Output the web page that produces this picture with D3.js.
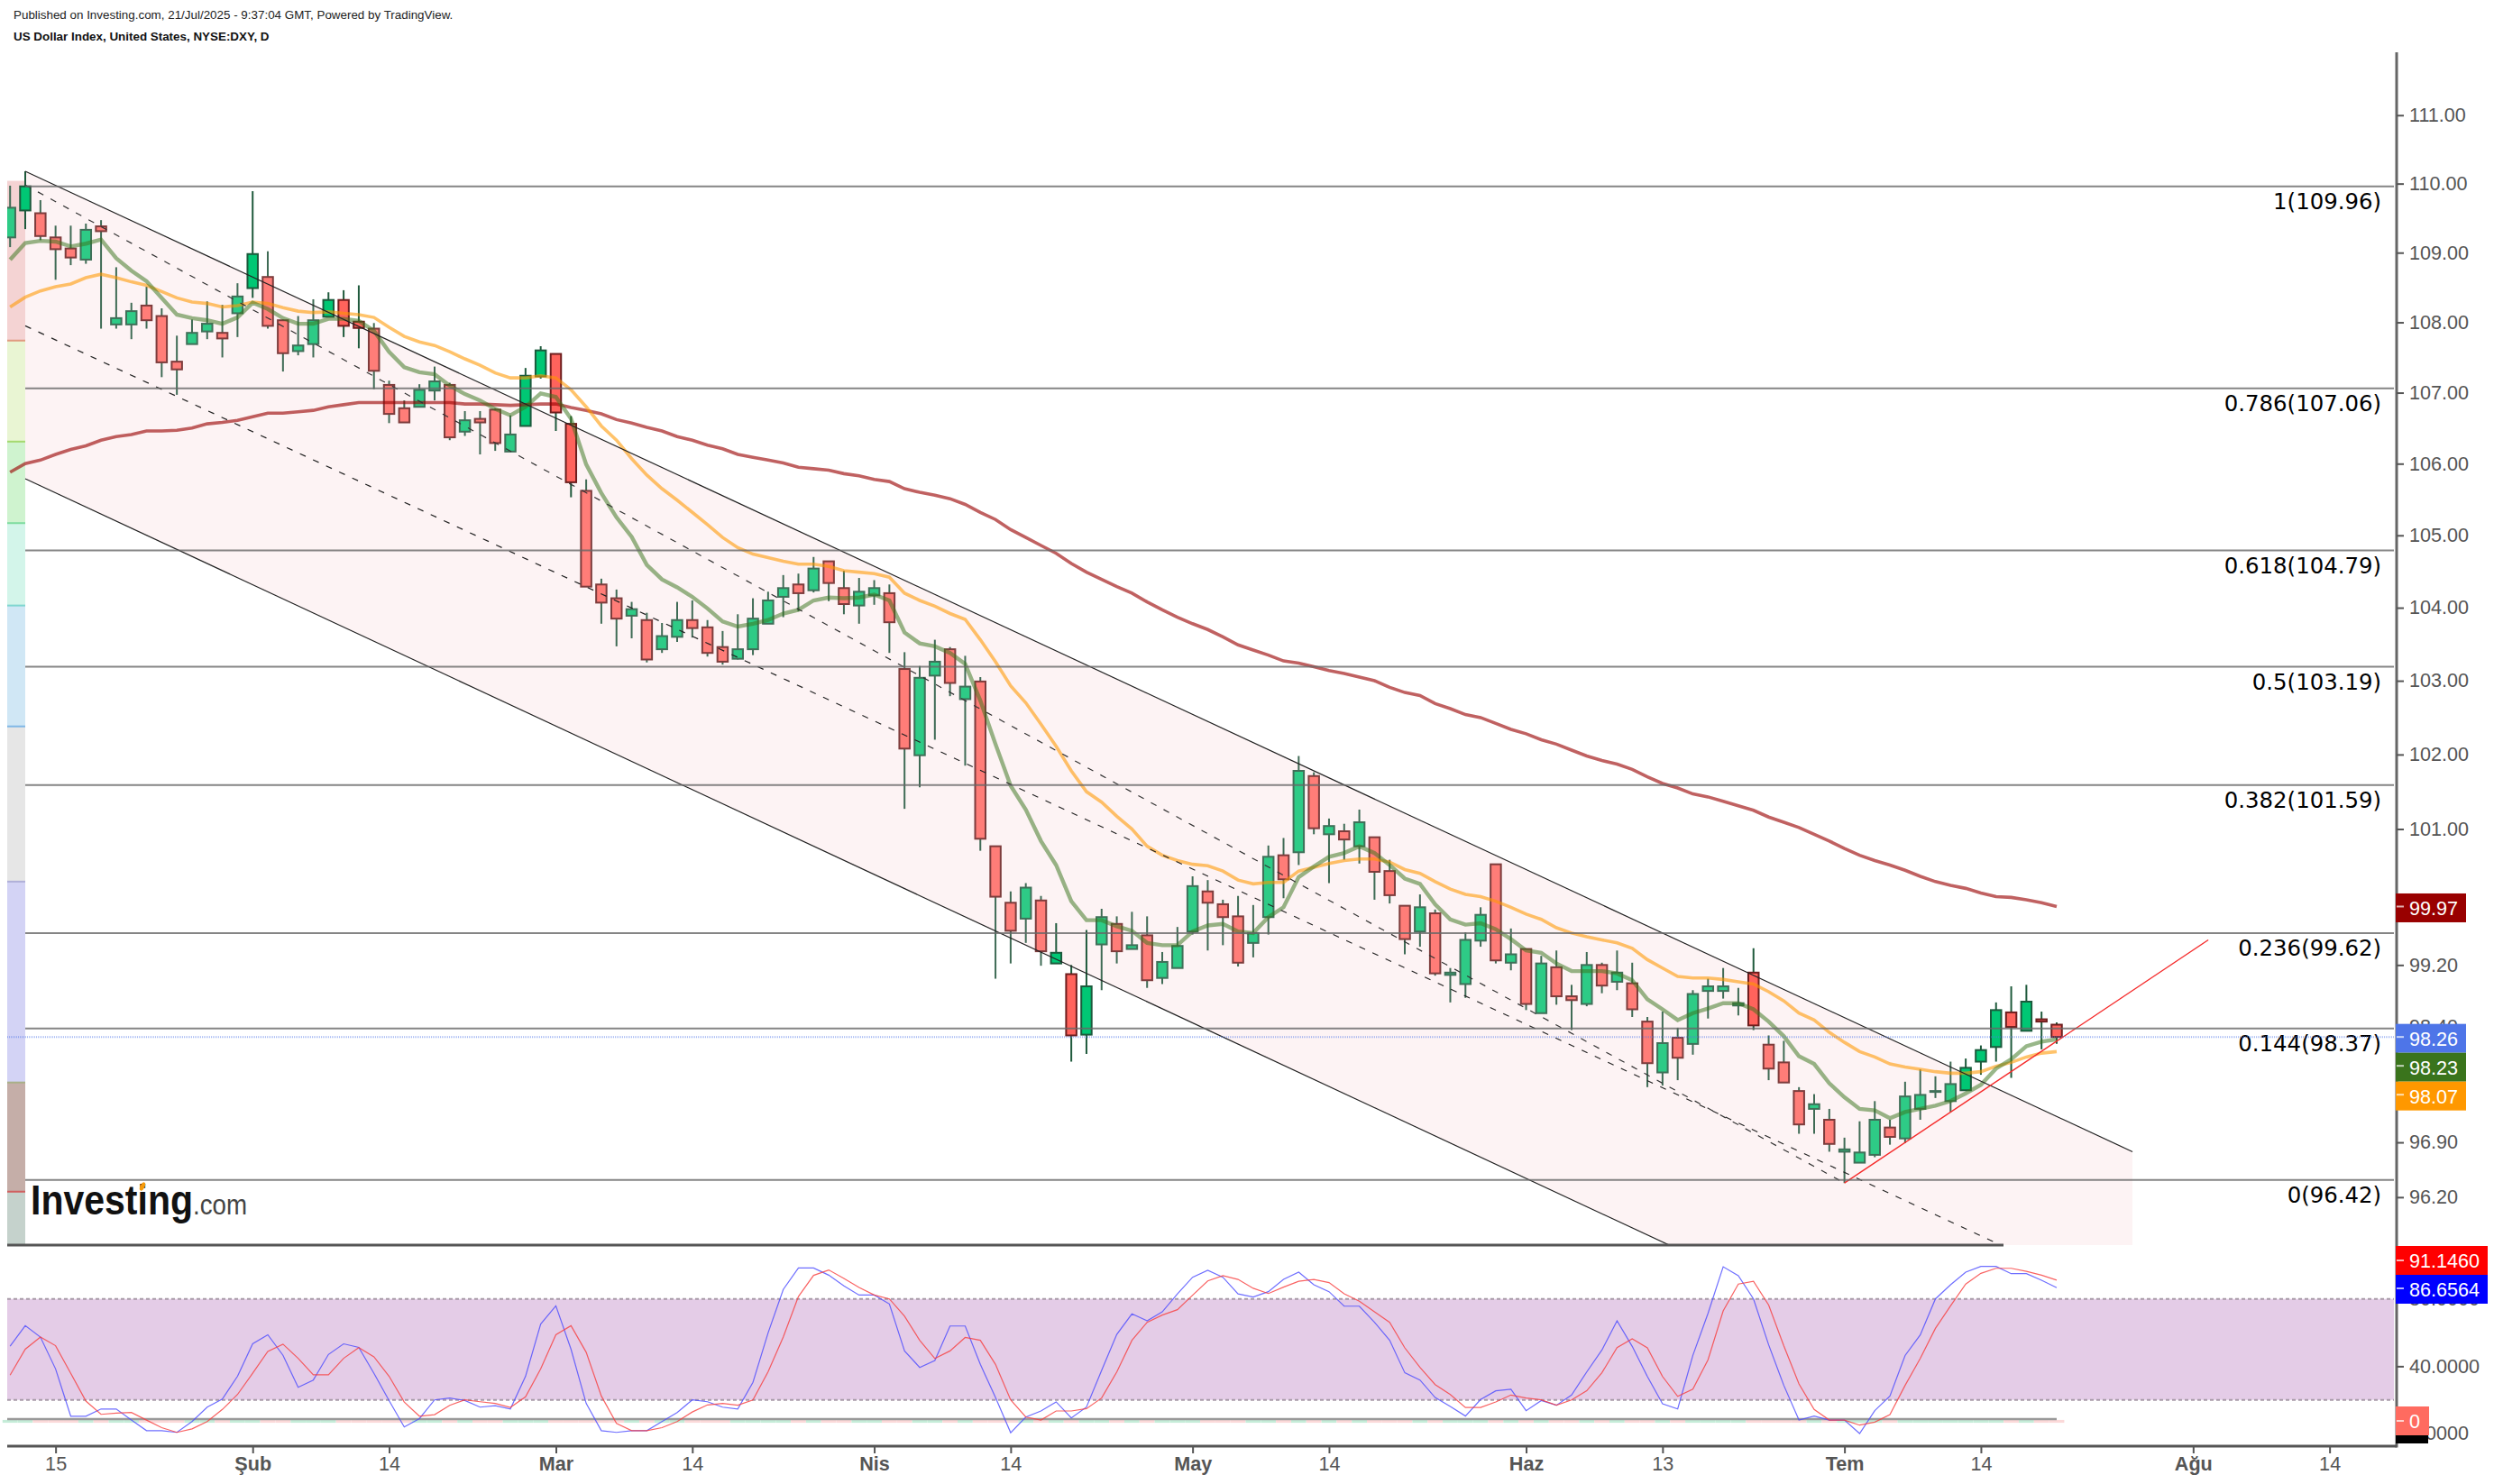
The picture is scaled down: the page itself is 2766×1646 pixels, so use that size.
<!DOCTYPE html>
<html>
<head>
<meta charset="utf-8">
<title>US Dollar Index</title>
<script src="https://cdn.jsdelivr.net/npm/d3@7"></script>
<style>
  html, body { margin: 0; padding: 0; background: #fff; }
  svg { display: block; }
  text { font-family: "Liberation Sans", Arial, sans-serif; }
  .axis-text { font-size: 21.6px; fill: #555; }
  .fib-label { font-family: "DejaVu Sans", sans-serif; font-size: 24.4px; fill: #000; }
</style>
</head>
<body>
<div id="chart"></div>
<script>
// Candles, one entry per session
var barDirs = "GGRRRGRGGRRRGGRGGRRGGGRRRRRGGRGRRGGGRRRRRGRGGRRRGGGGRGRRGGRRGGRGRRRGRGRGGRGRGGGRRRGGRGRGRGRRRGRGGGRGRGRRGRGRRGRGGGGRRRRGRGGGRGGGGGGGRGRR".split("");

var highs = [109.97,110.18,109.76,109.39,109.39,109.42,109.47,108.79,108.28,108.51,
  108.20,107.81,108.04,108.30,108.25,108.56,109.89,109.02,108.04,108.09,
  108.33,108.43,108.46,108.53,107.99,107.17,106.89,107.12,107.37,107.14,
  106.74,106.74,106.78,106.68,107.35,107.66,107.55,106.67,105.78,104.40,
  104.25,104.08,103.93,103.79,104.08,104.10,103.83,103.68,103.91,104.13,
  104.22,104.45,104.47,104.70,104.64,104.51,104.41,104.38,104.32,103.39,
  103.20,103.56,103.46,103.34,103.05,100.77,100.17,100.28,100.11,99.75,
  99.20,99.66,99.94,99.84,99.90,99.84,99.37,99.70,100.37,100.32,
  100.06,100.11,99.99,100.78,100.88,101.98,101.76,101.14,101.07,101.26,
  100.89,100.59,99.98,100.13,99.93,99.16,99.63,99.96,100.53,99.68,
  99.41,99.32,99.39,98.94,99.37,99.23,99.39,99.23,98.52,98.59,
  98.38,98.87,99.02,99.16,98.90,99.42,98.28,98.21,97.61,97.52,
  97.33,96.96,97.17,97.43,97.19,97.68,97.84,97.75,97.94,97.98,
  98.15,98.71,98.92,98.94,98.59,98.45];

var bodyTops = [109.65,109.96,109.57,109.22,109.06,109.33,109.38,108.06,108.16,108.24,
  108.09,107.44,107.85,107.98,107.85,108.37,108.98,108.65,108.03,107.67,
  108.03,108.32,108.32,108.01,107.91,107.11,106.78,107.04,107.16,107.11,
  106.61,106.63,106.76,106.41,107.24,107.60,107.55,106.56,105.62,104.32,
  104.13,103.98,103.83,103.61,103.83,103.83,103.73,103.46,103.43,103.85,
  104.10,104.27,104.32,104.54,104.64,104.27,104.22,104.27,104.20,103.16,
  103.04,103.26,103.43,102.92,102.99,100.77,100.02,100.22,100.05,99.36,
  99.08,98.92,99.83,99.74,99.46,99.59,99.24,99.45,100.24,100.17,
  100.00,99.84,99.62,100.63,100.65,101.78,101.71,101.04,100.97,101.09,
  100.89,100.44,99.98,99.96,99.88,99.10,99.53,99.86,100.53,99.34,
  99.41,99.22,99.17,98.79,99.20,99.20,99.10,98.96,98.46,98.18,
  98.25,98.82,98.92,98.92,98.70,99.10,98.16,97.93,97.56,97.39,
  97.19,96.81,96.77,97.19,97.09,97.49,97.51,97.56,97.65,97.86,
  98.09,98.61,98.58,98.72,98.49,98.42];

var bodyBottoms = [109.22,109.61,109.24,109.05,108.93,108.90,109.31,107.97,107.97,108.03,
  107.43,107.33,107.69,107.87,107.77,108.13,108.49,107.95,107.56,107.59,
  107.69,108.08,107.95,107.92,107.31,106.70,106.58,106.80,107.03,106.37,
  106.45,106.58,106.29,106.17,106.53,107.23,106.72,105.74,104.29,104.07,
  103.85,103.89,103.29,103.43,103.60,103.72,103.38,103.26,103.30,103.43,
  103.78,104.15,104.20,104.24,104.34,104.05,104.03,104.17,103.80,102.08,
  101.99,103.07,102.97,102.75,100.87,100.10,99.65,99.81,99.38,99.22,
  98.28,98.29,99.47,99.38,99.41,99.00,99.03,99.16,99.64,100.02,
  99.83,99.23,99.49,99.83,100.33,100.69,101.01,100.93,100.86,100.77,
  100.43,100.12,99.54,99.64,99.09,99.07,98.95,99.52,99.26,99.23,
  98.69,98.57,98.79,98.74,98.69,98.93,98.98,98.62,97.92,97.80,
  97.99,98.17,98.86,98.86,98.67,98.41,97.85,97.67,97.13,97.33,
  96.88,96.78,96.64,96.74,96.97,96.95,97.33,97.55,97.43,97.57,
  97.94,98.13,98.39,98.34,98.46,98.26];

var lows = [109.08,109.34,109.18,108.61,108.82,108.84,107.91,107.91,107.76,107.91,
  107.22,106.97,107.69,107.76,107.50,107.79,108.35,107.91,107.30,107.53,
  107.50,108.08,107.79,107.63,107.05,106.57,106.58,106.80,106.89,106.33,
  106.39,106.13,106.18,106.17,106.53,107.20,106.46,105.53,104.29,103.78,
  103.47,103.58,103.25,103.38,103.53,103.59,103.33,103.22,103.29,103.35,
  103.78,103.87,103.95,104.21,104.09,103.91,103.78,104.04,103.38,101.27,
  101.56,102.20,102.79,101.85,100.71,99.02,99.22,99.49,99.19,99.22,
  97.94,98.04,98.87,99.22,99.41,98.90,98.95,99.16,99.60,99.39,
  99.46,99.18,99.30,99.60,100.08,100.52,100.93,100.28,100.59,100.54,
  100.06,100.01,99.34,99.44,99.06,98.71,98.77,99.44,99.22,99.13,
  98.61,98.57,98.68,98.35,98.66,98.83,98.87,98.52,97.61,97.63,
  97.70,98.03,98.50,98.76,98.54,98.35,97.70,97.67,97.01,97.01,
  96.78,96.38,96.64,96.71,96.87,96.89,97.19,97.47,97.29,97.57,
  97.77,97.94,97.73,98.34,98.10,98.17];

// Sessions drawn with the stronger colours
var strongBars = [1,16,21,22,23,34,35,36,37,69,70,71,115,129,130,131,132,133,134,135];

// Moving averages
var maFast = [108.90,109.14,109.17,109.16,109.09,109.13,109.19,108.92,108.74,108.59,
  108.35,108.11,108.06,108.03,107.98,108.07,108.28,108.19,108.06,107.98,
  107.98,108.05,108.05,108.02,107.88,107.58,107.36,107.29,107.26,107.10,
  106.98,106.89,106.77,106.68,106.80,106.99,106.94,106.63,105.99,105.59,
  105.25,104.98,104.59,104.39,104.28,104.15,103.99,103.81,103.74,103.78,
  103.83,103.92,103.97,104.10,104.14,104.13,104.14,104.18,104.10,103.66,
  103.51,103.47,103.38,103.23,102.73,102.14,101.58,101.26,100.84,100.52,
  100.04,99.79,99.79,99.71,99.65,99.49,99.46,99.46,99.64,99.72,
  99.74,99.64,99.62,99.83,99.96,100.36,100.50,100.63,100.68,100.77,
  100.68,100.52,100.34,100.27,100.00,99.80,99.73,99.75,99.67,99.54,
  99.39,99.36,99.22,99.12,99.12,99.12,99.09,99.00,98.75,98.62,
  98.48,98.57,98.63,98.70,98.70,98.62,98.46,98.27,98.01,97.91,
  97.66,97.48,97.33,97.31,97.21,97.29,97.33,97.37,97.43,97.53,
  97.64,97.85,97.97,98.14,98.20,98.23];

var maMid = [108.22,108.36,108.45,108.51,108.55,108.64,108.69,108.64,108.58,108.53,
  108.44,108.35,108.29,108.27,108.22,108.24,108.29,108.27,108.21,108.16,
  108.14,108.15,108.13,108.11,108.07,107.93,107.80,107.72,107.67,107.58,
  107.48,107.39,107.28,107.21,107.21,107.24,107.21,107.04,106.80,106.53,
  106.33,106.07,105.84,105.65,105.49,105.32,105.15,104.97,104.83,104.74,
  104.69,104.64,104.60,104.60,104.57,104.51,104.49,104.47,104.42,104.20,
  104.10,104.02,103.92,103.84,103.56,103.26,102.93,102.70,102.41,102.11,
  101.78,101.50,101.36,101.17,101.00,100.77,100.65,100.58,100.53,100.51,
  100.44,100.32,100.27,100.29,100.29,100.44,100.49,100.54,100.58,100.60,
  100.60,100.56,100.46,100.41,100.30,100.20,100.13,100.10,100.04,99.96,
  99.87,99.80,99.69,99.62,99.57,99.53,99.49,99.42,99.27,99.16,
  99.05,99.03,99.03,99.01,98.98,98.95,98.85,98.73,98.57,98.48,
  98.32,98.19,98.07,98.00,97.91,97.87,97.84,97.81,97.79,97.79,
  97.81,97.88,97.93,98.00,98.05,98.07];

var maSlow = [105.88,106.00,106.05,106.13,106.20,106.25,106.33,106.38,106.41,106.46,
  106.46,106.47,106.50,106.56,106.58,106.61,106.66,106.71,106.71,106.73,
  106.75,106.80,106.83,106.86,106.86,106.86,106.86,106.86,106.86,106.86,
  106.84,106.84,106.83,106.82,106.83,106.84,106.84,106.79,106.75,106.70,
  106.62,106.57,106.51,106.46,106.38,106.33,106.26,106.21,106.13,106.09,
  106.05,106.01,105.95,105.93,105.91,105.86,105.83,105.78,105.75,105.65,
  105.60,105.56,105.51,105.43,105.32,105.22,105.08,104.97,104.86,104.75,
  104.61,104.49,104.39,104.29,104.20,104.08,103.97,103.87,103.78,103.70,
  103.60,103.49,103.42,103.35,103.27,103.24,103.19,103.14,103.10,103.05,
  103.00,102.91,102.84,102.80,102.69,102.62,102.54,102.50,102.42,102.34,
  102.28,102.20,102.14,102.06,101.98,101.92,101.87,101.80,101.70,101.61,
  101.55,101.47,101.43,101.37,101.31,101.25,101.16,101.09,101.02,100.93,
  100.84,100.74,100.65,100.58,100.52,100.45,100.37,100.30,100.25,100.21,
  100.15,100.10,100.09,100.06,100.02,99.97];

// Stochastic RSI
var stochK = [51.9,64.1,57.3,38.4,10.3,10.3,14.6,14.6,8.0,1.7,
  1.7,0.7,7.1,15.7,20.5,34.0,53.3,58.7,46.5,27.5,
  31.8,47.0,53.3,51.2,35.8,19.6,3.9,8.9,20.0,21.1,
  19.6,15.7,16.6,14.6,34.0,65.1,75.9,50.1,17.9,1.7,
  0.7,1.7,1.7,7.1,12.5,20.0,18.9,15.7,14.6,30.4,
  59.8,85.6,98.4,98.4,94.1,87.7,82.3,82.3,77.0,49.1,
  39.3,43.4,63.9,63.9,41.1,21.4,0.5,9.8,13.4,18.8,
  9.3,15.7,37.5,58.9,71.1,67.0,72.3,83.0,92.9,97.0,
  92.9,83.0,81.1,84.3,91.6,95.9,88.4,84.3,75.7,75.7,
  66.1,55.4,36.1,31.8,21.4,16.1,10.4,20.2,25.4,26.3,
  13.6,19.6,16.8,22.9,36.6,49.6,67.0,51.8,33.9,17.7,
  14.6,46.4,71.4,99.1,93.8,80.0,52.7,28.6,8.0,10.4,
  8.0,8.0,0.0,13.6,22.3,46.4,58.6,80.0,88.4,95.9,
  99.3,99.3,95.0,95.0,91.1,86.66];

var stochD = [34.7,50.1,57.3,52.2,35.8,19.3,11.4,12.1,12.5,8.0,
  3.5,0.7,2.8,7.1,14.3,23.2,35.8,48.8,53.1,44.7,
  34.9,34.9,44.7,51.0,45.6,34.0,18.7,10.3,11.2,16.8,
  20.0,18.9,17.9,15.5,21.8,38.4,58.7,64.1,48.3,22.3,
  6.0,1.7,1.7,3.5,7.1,12.8,17.0,17.9,16.8,20.0,
  36.7,57.3,81.4,94.0,97.2,92.2,86.8,82.3,80.0,69.7,
  55.4,44.6,49.1,57.1,55.4,41.1,20.0,9.8,8.0,13.4,
  13.4,14.8,21.1,36.6,55.4,66.1,70.4,73.6,82.2,90.7,
  93.8,91.6,86.3,83.2,87.0,90.5,91.6,89.7,83.0,78.6,
  72.3,66.1,50.9,39.3,29.1,23.2,15.5,15.5,18.8,22.9,
  21.1,20.0,16.8,20.0,25.4,36.1,51.1,56.3,50.9,33.9,
  22.1,26.4,43.8,72.9,88.8,90.5,76.4,52.1,29.5,14.3,
  8.0,8.0,5.0,6.8,11.2,28.6,44.6,62.5,75.9,88.8,
  95.2,98.2,98.2,96.4,94.1,91.15];

// Fibonacci levels
var fibRatios = ["1","0.786","0.618","0.5","0.382","0.236","0.144","0"];
var fibPrices = [109.96,107.06,104.79,103.19,101.59,99.62,98.37,96.42];

// Drawn lines, [session, price]
var channelTop = [[1,110.18],[140,96.78]];
var channelMid = [[1,107.95],[140,94.82]];
var channelBottom = [[1,105.79],[140,92.90]];
var highLowLine = [[1,109.98],[121,96.38]];
var supportLine = [[121,96.38],[145,99.53]];

// Coloured strip at the left edge of the price pane
var stripLevels = [110.04,107.74,106.31,105.17,104.03,102.38,100.30,97.67,96.27,95.59];
var stripFills = ["#f4d3d3","#e9f5d3","#cff3cf","#d3f5ea","#d0e7f5","#e6e6e6","#d3d3f5","#c5aea8","#c5d2cc"];
var stripEdges = ["#e09a80","#a4d96f","#7fdca0","#7fd6d0","#80b8e6","#b0b0d8","#a8b088","#d06060"];

// Axis ticks (100.00 and 97.60 sit fully behind the value tags, so they are left out)
var priceTicks = [111,110,109,108,107,106,105,104,103,102,101,99.2,98.4,96.9,96.2];
var oscTicks = [80,40,0];
var dateTicks = [3,16,25,36,45,57,66,78,87,100,109,121,130,144,153];
var dateLabels = ["15","Şub","14","Mar","14","Nis","14","May","14","Haz","13","Tem","14","Ağu","14"];
var monthLabels = ["Şub","Mar","Nis","May","Haz","Tem","Ağu"];

var svgWidth = 2766;
var svgHeight = 1646;
var paneLeft = 8;
var paneRight = 2655;
var axisX = 2658;
var paneBottom = 1381;
var dateAxisY = 1604;
var bodyWidth = 11.5;

var svg = d3.select("#chart").append("svg")
  .attr("width", svgWidth)
  .attr("height", svgHeight)
  .attr("font-family", "Liberation Sans");

var sessions = d3.range(highs.length);

var xScale = d3.scaleLinear().domain([0, 135]).range([11.2, 2281]);
var yScale = d3.scaleLog().domain([109.96, 96.42]).range([206.7, 1308.7]);
var oscScale = d3.scaleLinear().domain([80, 20]).range([1440.7, 1552.7]);

var defs = svg.append("defs");
defs.append("clipPath").attr("id", "pane")
  .append("rect").attr("x", paneLeft).attr("y", 58)
  .attr("width", paneRight - paneLeft).attr("height", paneBottom - 58);
defs.append("clipPath").attr("id", "zero-tag")
  .append("rect").attr("x", axisX - 1).attr("y", 1592).attr("width", 36).attr("height", 9);

// Header
svg.append("text").attr("x", 15).attr("y", 21).attr("font-size", 13.4).attr("fill", "#222")
  .text("Published on Investing.com, 21/Jul/2025 - 9:37:04 GMT, Powered by TradingView.");
svg.append("text").attr("x", 15).attr("y", 45).attr("font-size", 13.4).attr("font-weight", "bold").attr("fill", "#111")
  .text("US Dollar Index, United States, NYSE:DXY, D");

// Left strip
var strip = svg.append("g");
stripFills.forEach(function(fill, i) {
  strip.append("rect")
    .attr("x", paneLeft)
    .attr("y", yScale(stripLevels[i]))
    .attr("width", xScale(1) - paneLeft)
    .attr("height", yScale(stripLevels[i + 1]) - yScale(stripLevels[i]))
    .attr("fill", fill);
});
stripEdges.forEach(function(edge, i) {
  strip.append("rect")
    .attr("x", paneLeft)
    .attr("y", yScale(stripLevels[i + 1]) - 1)
    .attr("width", xScale(1) - paneLeft)
    .attr("height", 2)
    .attr("fill", edge);
});

var pane = svg.append("g").attr("clip-path", "url(#pane)");

var priceLine = d3.line()
  .x(function(d) { return xScale(d[0]); })
  .y(function(d) { return yScale(d[1]); });

// Channel fill
pane.append("path")
  .attr("d", priceLine(channelTop.concat(channelBottom.slice().reverse())) + "Z")
  .attr("fill", "#fdf3f4");

// Pane separator sits on the fill and stops with the middle line
svg.append("rect")
  .attr("x", paneLeft).attr("y", paneBottom - 1.5)
  .attr("width", 2222 - paneLeft).attr("height", 3)
  .attr("fill", "#555");

// Candles
var candles = pane.selectAll(".candle").data(sessions).enter().append("g").attr("class", "candle");

candles.append("line")
  .attr("x1", function(i) { return xScale(i); })
  .attr("x2", function(i) { return xScale(i); })
  .attr("y1", function(i) { return yScale(highs[i]); })
  .attr("y2", function(i) { return yScale(lows[i]); })
  .attr("stroke", function(i) { return strongBars.indexOf(i) >= 0 ? "#1f5a3c" : "#3f6b55"; })
  .attr("stroke-width", 2);

candles.append("rect")
  .attr("x", function(i) { return xScale(i) - bodyWidth / 2; })
  .attr("y", function(i) { return yScale(bodyTops[i]); })
  .attr("width", bodyWidth)
  .attr("height", function(i) { return Math.max(1, yScale(bodyBottoms[i]) - yScale(bodyTops[i])); })
  .attr("fill", function(i) {
    var strong = strongBars.indexOf(i) >= 0;
    if (barDirs[i] === "G") return strong ? "#00c774" : "#2ecb86";
    return strong ? "#ff635c" : "#ff7d78";
  })
  .attr("stroke", function(i) {
    var strong = strongBars.indexOf(i) >= 0;
    if (barDirs[i] === "G") return strong ? "#1b5a3c" : "#3f6f58";
    return strong ? "#6e1e1e" : "#7d3c3c";
  })
  .attr("stroke-width", 2);

// Fibonacci lines and labels
fibPrices.forEach(function(price, i) {
  svg.append("line")
    .attr("x1", xScale(1)).attr("x2", paneRight)
    .attr("y1", yScale(price)).attr("y2", yScale(price))
    .attr("stroke", "#666").attr("stroke-opacity", 0.8).attr("stroke-width", 2);
  svg.append("text")
    .attr("class", "fib-label")
    .attr("x", 2641)
    .attr("y", yScale(price) + 25)
    .attr("text-anchor", "end")
    .text(fibRatios[i] + "(" + price.toFixed(2) + ")");
});

// Last price line
svg.append("line")
  .attr("x1", paneLeft).attr("x2", paneRight)
  .attr("y1", yScale(98.26)).attr("y2", yScale(98.26))
  .attr("stroke", "#4e75e8").attr("stroke-opacity", 0.5)
  .attr("stroke-width", 2).attr("stroke-dasharray", "1 1");

// Moving averages
var maLine = d3.line()
  .x(function(d, i) { return xScale(i); })
  .y(function(d) { return yScale(d); });

[[maSlow, "#990000", 0.62, 3.6], [maMid, "#ff9800", 0.58, 3.6], [maFast, "#3a741c", 0.52, 4.4]].forEach(function(ma) {
  pane.append("path")
    .attr("d", maLine(ma[0]))
    .attr("fill", "none")
    .attr("stroke", ma[1])
    .attr("stroke-opacity", ma[2])
    .attr("stroke-width", ma[3]);
});

// Channel and trend lines
function drawLine(points, color, width, dash) {
  pane.append("path")
    .attr("d", priceLine(points))
    .attr("fill", "none")
    .attr("stroke", color)
    .attr("stroke-width", width)
    .attr("stroke-dasharray", dash);
}
drawLine(channelTop, "#222", 1.2, null);
drawLine(channelBottom, "#222", 1.2, null);
drawLine(channelMid, "#222", 1.2, "7 9");
drawLine(highLowLine, "#333", 1.2, "7 9");
drawLine(supportLine, "#f52a2a", 1.4, null);

// Investing logo
svg.append("text").attr("x", 34).attr("y", 1347)
  .attr("font-size", 46).attr("font-weight", "bold").attr("fill", "#111")
  .attr("textLength", 180).attr("lengthAdjust", "spacingAndGlyphs")
  .text("Investing");
svg.append("text").attr("x", 214).attr("y", 1347)
  .attr("font-size", 31).attr("fill", "#444")
  .attr("textLength", 60).attr("lengthAdjust", "spacingAndGlyphs")
  .text(".com");
svg.append("ellipse").attr("cx", 158).attr("cy", 1316).attr("rx", 2.5).attr("ry", 5)
  .attr("transform", "rotate(25 158 1316)").attr("fill", "#f59a0c");

// Oscillator pane
var oscBand = svg.append("g");
oscBand.append("rect")
  .attr("x", paneLeft).attr("width", paneRight - paneLeft)
  .attr("y", oscScale(80)).attr("height", oscScale(20) - oscScale(80))
  .attr("fill", "#e4cce7");
[80, 20].forEach(function(level) {
  oscBand.append("line")
    .attr("x1", paneLeft).attr("x2", paneRight)
    .attr("y1", oscScale(level)).attr("y2", oscScale(level))
    .attr("stroke", "#a89aa8").attr("stroke-width", 2).attr("stroke-dasharray", "4 3");
});

// Baseline with its small direction bars
svg.append("g").selectAll("rect").data(sessions).enter().append("rect")
  .attr("x", function(i) { return xScale(i) - 8.4; })
  .attr("width", 16.8)
  .attr("y", oscScale(8.1))
  .attr("height", oscScale(6.4) - oscScale(8.1))
  .attr("fill", function(i) { return barDirs[i] === "G" ? "#c5ecd8" : "#fbd9d9"; });
svg.append("line")
  .attr("x1", paneLeft).attr("x2", xScale(135))
  .attr("y1", oscScale(8.6)).attr("y2", oscScale(8.6))
  .attr("stroke", "#999").attr("stroke-width", 2.4);

var oscLine = d3.line()
  .x(function(d, i) { return xScale(i); })
  .y(function(d) { return oscScale(d); });

svg.append("path").attr("d", oscLine(stochK)).attr("fill", "none")
  .attr("stroke", "#4a4aff").attr("stroke-opacity", 0.8).attr("stroke-width", 1.2);
svg.append("path").attr("d", oscLine(stochD)).attr("fill", "none")
  .attr("stroke", "#f83c3c").attr("stroke-opacity", 0.8).attr("stroke-width", 1.2);

// Axes
function styleAxis(g) {
  g.select(".domain").remove();
  g.selectAll(".tick line").attr("stroke", "#555").attr("stroke-width", 2);
  g.selectAll(".tick text").attr("class", "axis-text").attr("font-family", "Liberation Sans");
}

svg.append("line")
  .attr("x1", axisX).attr("x2", axisX)
  .attr("y1", 58).attr("y2", dateAxisY + 1.5)
  .attr("stroke", "#666").attr("stroke-width", 3);

svg.append("g")
  .attr("transform", "translate(" + axisX + ",0)")
  .call(d3.axisRight(yScale).tickValues(priceTicks).tickSize(8).tickPadding(6).tickFormat(d3.format(".2f")))
  .call(styleAxis);

svg.append("g")
  .attr("transform", "translate(" + axisX + ",0)")
  .call(d3.axisRight(oscScale).tickValues(oscTicks).tickSize(8).tickPadding(6).tickFormat(d3.format(".4f")))
  .call(styleAxis);

svg.append("line")
  .attr("x1", paneLeft).attr("x2", axisX)
  .attr("y1", dateAxisY).attr("y2", dateAxisY)
  .attr("stroke", "#555").attr("stroke-width", 3);

var dateAxis = svg.append("g")
  .attr("transform", "translate(0," + dateAxisY + ")")
  .call(d3.axisBottom(xScale)
    .tickValues(dateTicks)
    .tickSize(8)
    .tickPadding(4)
    .tickFormat(function(d, i) { return dateLabels[i]; }))
  .call(styleAxis);

dateAxis.selectAll(".tick text")
  .attr("font-weight", function(d, i) { return monthLabels.indexOf(dateLabels[i]) >= 0 ? "bold" : null; });

// Value tags on the right axis
function drawTag(y, height, width, fill, label, tickY) {
  svg.append("rect")
    .attr("x", axisX - 1).attr("y", y)
    .attr("width", width).attr("height", height)
    .attr("fill", fill);
  svg.append("line")
    .attr("x1", axisX).attr("x2", axisX + 8)
    .attr("y1", tickY).attr("y2", tickY)
    .attr("stroke", "#fff").attr("stroke-opacity", 0.7).attr("stroke-width", 2);
  svg.append("text")
    .attr("x", axisX + 14).attr("y", y + height / 2 + 8)
    .attr("font-size", 21.6).attr("fill", "#fff")
    .text(label);
}

var tagHeight = 32;
drawTag(yScale(maSlow[135]) - 14.5, tagHeight, 78, "#990000", "99.97", yScale(maSlow[135]));
drawTag(yScale(98.26) - 14.5, tagHeight, 78, "#4e75e8", "98.26", yScale(98.26));
drawTag(yScale(98.26) - 14.5 + tagHeight, tagHeight, 78, "#3a741c", "98.23", yScale(98.26) + tagHeight);
drawTag(yScale(98.26) - 14.5 + tagHeight * 2, tagHeight, 78, "#ff9800", "98.07", yScale(98.26) + tagHeight * 2);
drawTag(1382, tagHeight, 102, "#ff0000", "91.1460", 1398);
drawTag(1414, tagHeight, 102, "#0000ff", "86.6564", 1429);
drawTag(1560, tagHeight, 37, "#ff6b60", "0", 1576);

// Black tag under the zero tag, mostly cut off
svg.append("rect").attr("x", axisX - 1).attr("y", 1592).attr("width", 36).attr("height", 9).attr("fill", "#000");
svg.append("text").attr("clip-path", "url(#zero-tag)")
  .attr("x", axisX + 14).attr("y", 1616)
  .attr("font-size", 21.6).attr("fill", "#fff")
  .text("0");
</script>
</body>
</html>
